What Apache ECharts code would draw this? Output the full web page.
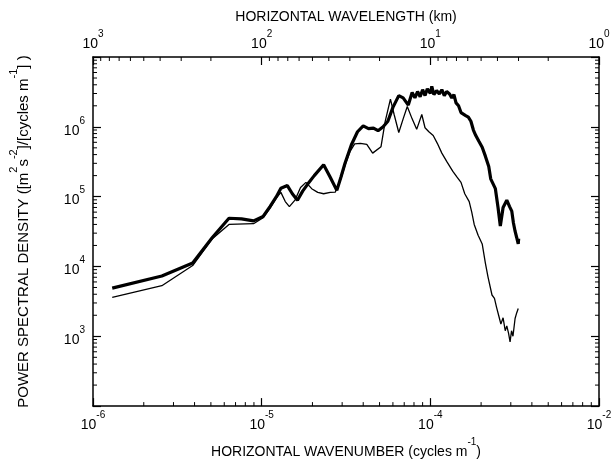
<!DOCTYPE html>
<html><head><meta charset="utf-8">
<script src="https://cdn.jsdelivr.net/npm/echarts@6/dist/echarts.min.js"></script>
<style>html,body{margin:0;padding:0;background:#fff}#c{width:616px;height:464px}</style>
</head><body><div id="c"></div>
<script>
// ---- data ----
const wavenumberThick = [1.3e-6,2.56e-6,3.9e-6,5.1e-6,6.4e-6,7.6e-6,8.95e-6,1.02e-5,1.12e-5,1.22e-5,1.3e-5,1.42e-5,1.52e-5,1.63e-5,1.75e-5,1.87e-5,2.05e-5,2.33e-5,2.55e-5,2.79e-5,2.95e-5,3.12e-5,3.4e-5,3.7e-5,4.0e-5,4.3e-5,4.6e-5,4.9e-5,5.25e-5,5.6e-5,6.0e-5,6.5e-5,6.9e-5,7.4e-5,7.8e-5,8.1e-5,8.4e-5,8.7e-5,9.0e-5,9.3e-5,9.6e-5,1.0e-4,1.02e-4,1.05e-4,1.09e-4,1.13e-4,1.17e-4,1.21e-4,1.25e-4,1.3e-4,1.34e-4,1.38e-4,1.42e-4,1.47e-4,1.52e-4,1.56e-4,1.62e-4,1.68e-4,1.74e-4,1.8e-4,1.86e-4,1.94e-4,2.03e-4,2.12e-4,2.22e-4,2.28e-4,2.43e-4,2.52e-4,2.6e-4,2.7e-4,2.84e-4,2.95e-4,3.04e-4,3.11e-4,3.18e-4,3.25e-4,3.32e-4,3.34e-4];
const psdThick = [4.9e3,7.3e3,1.12e4,2.6e4,4.9e4,4.8e4,4.5e4,5.2e4,7.2e4,9.9e4,1.32e5,1.44e5,1.1e5,8.9e4,1.2e5,1.5e5,2.0e5,2.87e5,1.9e5,1.23e5,1.9e5,3.0e5,5.5e5,8.5e5,1.03e6,9.4e5,9.6e5,8.8e5,1.0e6,1.2e6,1.9e6,2.8e6,2.6e6,2.05e6,3.1e6,2.6e6,3.2e6,2.7e6,3.4e6,2.8e6,3.5e6,3.0e6,3.8e6,2.9e6,3.3e6,2.96e6,3.4e6,2.8e6,3.2e6,2.96e6,2.6e6,2.9e6,2.2e6,2.0e6,1.6e6,1.66e6,1.45e6,1.38e6,1.2e6,9.0e5,7.5e5,6.2e5,5.1e5,3.8e5,2.7e5,1.8e5,1.3e5,7.0e4,3.8e4,7.0e4,8.9e4,7.2e4,6.2e4,4.2e4,3.2e4,2.6e4,2.1e4,2.5e4];
const wavenumberThin = [1.3e-6,2.56e-6,3.9e-6,5.1e-6,6.4e-6,8.95e-6,1.02e-5,1.12e-5,1.22e-5,1.3e-5,1.38e-5,1.46e-5,1.58e-5,1.7e-5,1.83e-5,1.98e-5,2.15e-5,2.33e-5,2.55e-5,2.73e-5,2.95e-5,3.15e-5,3.35e-5,3.56e-5,3.85e-5,4.2e-5,4.55e-5,5.1e-5,5.4e-5,5.8e-5,6.1e-5,6.5e-5,6.9e-5,7.3e-5,7.8e-5,8.3e-5,8.9e-5,9.3e-5,9.8e-5,1.04e-4,1.1e-4,1.17e-4,1.25e-4,1.36e-4,1.44e-4,1.52e-4,1.6e-4,1.7e-4,1.76e-4,1.82e-4,1.92e-4,2.03e-4,2.12e-4,2.2e-4,2.32e-4,2.4e-4,2.47e-4,2.54e-4,2.62e-4,2.7e-4,2.78e-4,2.84e-4,2.91e-4,2.97e-4,3.03e-4,3.09e-4,3.18e-4,3.25e-4,3.32e-4];
const psdThin = [3.6e3,5.3e3,1.03e4,2.5e4,4.0e4,4.1e4,5.0e4,6.8e4,9.5e4,1.15e5,8.5e4,7.2e4,9.0e4,1.35e5,1.6e5,1.3e5,1.15e5,1.1e5,1.15e5,1.16e5,1.8e5,3.0e5,4.5e5,5.7e5,5.8e5,5.6e5,4.2e5,5.2e5,1.2e6,2.5e6,1.5e6,8.3e5,1.3e6,1.95e6,1.3e6,9.2e5,1.5e6,9.7e5,8.5e5,7.5e5,5.8e5,4.2e5,3.2e5,2.3e5,1.9e5,1.6e5,1.1e5,8.5e4,6.0e4,4.0e4,2.8e4,2.1e4,1.12e4,7.0e3,3.9e3,3.5e3,2.6e3,2.0e3,1.5e3,1.84e3,1.2e3,1.41e3,1.1e3,830,1.2e3,1.0e3,1.8e3,2.16e3,2.5e3];
// tick labels (exponents as printed)
const bottomTickValues = [1e-6,1e-5,1e-4,1e-3];
const bottomTickLabels = ['-6','-5','-4','-2'];
const topTickValues = [1000,100,10,1];
const topTickLabels = ['3','2','1','0'];
const leftTickValues = [1e3,1e4,1e5,1e6];
const leftTickLabels = ['3','4','5','6'];
const minorMultipliers = [2,3,4,5,6,7,8,9];

const FONT = '"Liberation Sans", Arial, Helvetica, sans-serif';
const rich = {
  b: {fontSize: 14, lineHeight: 22, fontFamily: FONT, color: '#000', verticalAlign: 'bottom'},
  s: {fontSize: 10, lineHeight: 10, fontFamily: FONT, color: '#000', verticalAlign: 'top'}
};
const richY = {
  b: {fontSize: 15, lineHeight: 23, fontFamily: FONT, color: '#000', verticalAlign: 'bottom'},
  s: {fontSize: 11, lineHeight: 11, fontFamily: FONT, color: '#000', verticalAlign: 'top'}
};
function mkFmt(vals, labs) {
  return function (v) {
    for (let i = 0; i < vals.length; i++) {
      if (Math.abs(Math.log10(v) - Math.log10(vals[i])) < 1e-6) return '{b|10}{s|' + labs[i] + '}';
    }
    return '';
  };
}
// minor tick marks built from the axis decades
const minorData = [];
for (let e = -6; e < -3; e++) minorMultipliers.forEach(m => minorData.push([m * Math.pow(10, e), 1e3, 0]));
for (let e = 0; e < 3; e++) minorMultipliers.forEach(m => minorData.push([1 / (m * Math.pow(10, e) * 1000), 1e3, 1]));
for (let e = 2; e < 7; e++) minorMultipliers.forEach(m => { minorData.push([1e-5, m * Math.pow(10, e), 2]); minorData.push([1e-5, m * Math.pow(10, e), 3]); });

const axisLineStyle = {lineStyle: {color: '#000', width: 1.5}};
const chart = echarts.init(document.getElementById('c'), null, {renderer: 'canvas'});
chart.setOption({
  animation: false,
  backgroundColor: '#fff',
  grid: {left: 83, right: 17, top: 57, bottom: 46, containLabel: false},
  xAxis: [{
    type: 'log', logBase: 10, min: 1e-6, max: 1e-3, position: 'bottom',
    axisLine: axisLineStyle, splitLine: {show: false},
    axisTick: {inside: true, length: 8, lineStyle: {color: '#000', width: 1.2}},
    axisLabel: {formatter: mkFmt(bottomTickValues, bottomTickLabels), rich: rich, margin: 4, showMinLabel: true, showMaxLabel: true},
    name: '{b|HORIZONTAL WAVENUMBER (cycles m}{s|-1}{b|)}',
    nameLocation: 'middle', nameGap: 23, nameTextStyle: {rich: rich}
  }, {
    type: 'log', logBase: 10, min: 1, max: 1000, inverse: true, position: 'top',
    axisLine: axisLineStyle, splitLine: {show: false},
    axisTick: {inside: true, length: 8, lineStyle: {color: '#000', width: 1.2}},
    axisLabel: {formatter: mkFmt(topTickValues, topTickLabels), rich: rich, margin: 6, showMinLabel: true, showMaxLabel: true},
    name: '{b|HORIZONTAL WAVELENGTH (km)}',
    nameLocation: 'middle', nameGap: 30, nameTextStyle: {rich: rich}
  }],
  yAxis: [{
    type: 'log', logBase: 10, min: 1e2, max: 1e7, position: 'left',
    axisLine: axisLineStyle, splitLine: {show: false},
    axisTick: {inside: true, length: 8, lineStyle: {color: '#000', width: 1.2}},
    axisLabel: {formatter: mkFmt(leftTickValues, leftTickLabels), rich: rich, margin: 8},
    name: '{b|POWER SPECTRAL DENSITY ([m}{s|2}{b|s}{s|-2}{b|]/[cycles m}{s|-1}{b|] )}',
    nameLocation: 'middle', nameRotate: 90, nameGap: 62, nameTextStyle: {rich: richY}
  }, {
    type: 'log', logBase: 10, min: 1e2, max: 1e7, position: 'right',
    axisLine: axisLineStyle, splitLine: {show: false},
    axisTick: {inside: true, length: 8, lineStyle: {color: '#000', width: 1.2}},
    axisLabel: {show: false}
  }],
  series: [{
    name: 'thick', type: 'line', xAxisIndex: 0, yAxisIndex: 0, showSymbol: false, symbol: 'none',
    lineStyle: {color: '#000', width: 3.2}, z: 3,
    data: wavenumberThick.map((x, i) => [x, psdThick[i]])
  }, {
    name: 'thin', type: 'line', xAxisIndex: 0, yAxisIndex: 0, showSymbol: false, symbol: 'none',
    lineStyle: {color: '#000', width: 1.3}, z: 4,
    data: wavenumberThin.map((x, i) => [x, psdThin[i]])
  }, {
    type: 'custom', xAxisIndex: 0, yAxisIndex: 0, clip: false, silent: true, z: 5,
    encode: {x: 0, y: 1},
    data: minorData,
    renderItem: function (params, api) {
      const side = api.value(2);
      const cs = params.coordSys;
      const p = api.coord([api.value(0), api.value(1)]);
      const L = 4;
      let x1, y1, x2, y2;
      if (side === 0) { x1 = x2 = p[0]; y1 = cs.y + cs.height; y2 = y1 - L; }
      else if (side === 1) { x1 = x2 = p[0]; y1 = cs.y; y2 = y1 + L; }
      else if (side === 2) { y1 = y2 = p[1]; x1 = cs.x; x2 = x1 + L; }
      else { y1 = y2 = p[1]; x1 = cs.x + cs.width; x2 = x1 - L; }
      return {type: 'line', shape: {x1: x1, y1: y1, x2: x2, y2: y2}, style: {stroke: '#000', lineWidth: 1}};
    }
  }]
});
</script>
</body></html>
